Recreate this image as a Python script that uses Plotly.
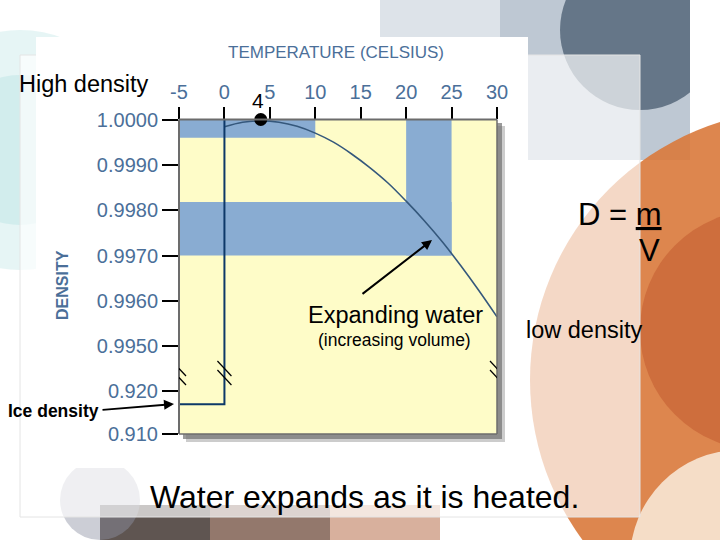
import plotly.graph_objects as go

# ---------------- data ----------------
temps = [0, 2, 4, 6, 8, 10, 12, 14, 16, 18, 20, 22, 24, 26, 28, 30]
density = [0.99984, 0.99994, 0.99997, 0.99994, 0.99985, 0.99970, 0.99950, 0.99924,
           0.99894, 0.99860, 0.99820, 0.99777, 0.99730, 0.99678, 0.99623, 0.99565]
max_temp = 4
max_density = 1.0000
ice_temp = 0
ice_density = 0.917
x_ticks = [-5, 0, 5, 10, 15, 20, 25, 30]
y_ticks_upper = [1.0000, 0.9990, 0.9980, 0.9970, 0.9960, 0.9950]
y_ticklabels_upper = ["1.0000", "0.9990", "0.9980", "0.9970", "0.9960", "0.9950"]
y_ticks_lower = [0.920, 0.910]
y_ticklabels_lower = ["0.920", "0.910"]
band_temp_lo = [-5, -5, 20]
band_temp_hi = [10, 25, 25]
band_dens_lo = [0.99960, 0.99700, 0.99700]
band_dens_hi = [1.0000, 0.99818, 1.0000]
x_range = [-5, 30]
upper_range = [0.99450, 1.00000]
lower_range = [0.910, 0.92526]

W, H = 720, 540
def px(x): return x / W
def py(y): return 1 - y / H

AX_BLUE = "#4b6f99"
TICKFONT = "Liberation Sans, Arial, sans-serif"
ARIAL = "Liberation Sans, Arial, sans-serif"

fig = go.Figure()

# curve (upper panel)
fig.add_trace(go.Scatter(x=temps, y=density, mode="lines", line=dict(color="#35587c", width=1.6, shape="spline"),
                         xaxis="x", yaxis="y", hoverinfo="skip", showlegend=False))
# vertical line at 0 C (upper)
fig.add_trace(go.Scatter(x=[ice_temp, ice_temp], y=[upper_range[0], max_density], mode="lines",
                         line=dict(color="#0d3868", width=2), xaxis="x", yaxis="y", showlegend=False))
# max point
fig.add_trace(go.Scatter(x=[max_temp], y=[max_density], mode="markers", marker=dict(color="black", size=13),
                         cliponaxis=False, xaxis="x", yaxis="y", showlegend=False))
# ice line (lower panel)
fig.add_trace(go.Scatter(x=[x_range[0], ice_temp, ice_temp], y=[ice_density, ice_density, lower_range[1]],
                         mode="lines", line=dict(color="#0d3868", width=2), xaxis="x2", yaxis="y2", showlegend=False))

def prect(x0, y0, x1, y1, color, opacity=1.0, line=None, layer="below"):
    return dict(type="rect", xref="paper", yref="paper", x0=px(x0), x1=px(x1), y0=py(y1), y1=py(y0),
                fillcolor=color, opacity=opacity, line=line or dict(width=0), layer=layer)

def pcirc(cx, cy, r, color, opacity=1.0):
    return dict(type="circle", xref="paper", yref="paper", x0=px(cx - r), x1=px(cx + r), y0=py(cy + r),
                y1=py(cy - r), fillcolor=color, opacity=opacity, line=dict(width=0), layer="below")

shapes = []
# ---- slide background ----
shapes.append(pcirc(20, 150, 120, "#d6efef", 0.6))
shapes.append(pcirc(20, 150, 75, "#c4e7e8", 0.6))
shapes.append(prect(380, 0, 690, 160, "#c6d0da", 0.6))
shapes.append(prect(500, 0, 690, 160, "#aab6c4", 0.6))
shapes.append(pcirc(640, 30, 80, "#56677a", 0.85))
shapes.append(prect(690, 0, 720, 160, "#ffffff"))
shapes.append(pcirc(800, 380, 270, "#d9793b", 0.9))
shapes.append(pcirc(760, 330, 120, "#c0552b", 0.5))
shapes.append(pcirc(740, 560, 110, "#fbf3e6", 0.8))
shapes.append(prect(100, 505, 210, 540, "#4e423e", 0.9))
shapes.append(prect(210, 505, 330, 540, "#87695c", 0.9))
shapes.append(prect(330, 505, 440, 540, "#d4a792", 0.9))
shapes.append(pcirc(100, 500, 40, "#8d93a3", 0.45))
# translucent slide panel
shapes.append(prect(20, 55, 640, 517, "rgba(255,255,255,0.68)", line=dict(color="#e4e4e4", width=1)))
# white chart panel
shapes.append(prect(36, 37, 528, 468, "#ffffff"))
# shadow + yellow plot area
shapes.append(prect(186, 126, 505, 442, "#9a9a9a", 0.5))
shapes.append(prect(183, 123, 502, 439, "#707070", 0.7))
shapes.append(prect(179, 119.5, 497, 434, "#fefcc8"))
# blue bands
for t0, t1, d0, d1 in zip(band_temp_lo, band_temp_hi, band_dens_lo, band_dens_hi):
    shapes.append(dict(type="rect", xref="x", yref="y", x0=t0, x1=t1, y0=d0, y1=d1,
                       fillcolor="#89acd2", line=dict(width=0), layer="below"))
# frame border
def pline(x0, y0, x1, y1, color, width):
    return dict(type="line", xref="paper", yref="paper", x0=px(x0), x1=px(x1), y0=py(y0), y1=py(y1),
                line=dict(color=color, width=width))
shapes.append(pline(179, 119.5, 179, 434, "#6c6c6c", 2))
shapes.append(pline(179, 119.5, 497, 119.5, "#6c6c6c", 2))
shapes.append(pline(497, 119.5, 497, 434, "#6c6c6c", 1.5))
shapes.append(pline(179, 434, 497, 434, "#6c6c6c", 1.5))
# axis break marks
for xb in [x_range[0], ice_temp, x_range[1]]:
    for dy in [0, 9]:
        shapes.append(dict(type="line", xref="x", yref="paper", xsizemode="pixel", xanchor=xb,
                           x0=-7, x1=7, y0=py(361 + dy), y1=py(376 + dy),
                           line=dict(color="black", width=1.2)))
fig.update_layout(shapes=shapes)

def ptext(text, x, y, size, color="black", xanchor="center", family=ARIAL, **kw):
    return dict(text=text, x=px(x), y=py(y), xref="paper", yref="paper", showarrow=False, xanchor=xanchor,
                yanchor="middle", font=dict(family=family, size=size, color=color), **kw)

ann = []
ann.append(ptext("TEMPERATURE (CELSIUS)", 336, 53, 17, AX_BLUE))
ann.append(ptext("<b>DENSITY</b>", 62, 285, 16, AX_BLUE, textangle=-90))
ann.append(ptext("High density", 17, 84, 23.5, xanchor="left"))
ann.append(ptext("4", 258, 101, 21))
ann.append(ptext("D = <u>m</u>", 664, 214, 31, xanchor="right"))
ann.append(ptext("V", 662, 250, 31, xanchor="right"))
ann.append(ptext("Expanding water", 395, 315, 23.5))
ann.append(ptext("(increasing volume)", 394, 340, 17.5))
ann.append(ptext("low density", 524, 330, 23.5, xanchor="left"))
ann.append(ptext("<b>Ice density</b>", 6, 411, 17.5, xanchor="left"))
ann.append(ptext("Water expands as it is heated.", 364, 497, 32))
# arrows (offsets in pixels from head to tail)
ann.append(dict(text="", x=px(432), y=py(240), xref="paper", yref="paper", ax=-71, ay=55,
                axref="pixel", ayref="pixel", showarrow=True, arrowhead=2, arrowsize=1, arrowwidth=2,
                arrowcolor="black"))
ann.append(dict(text="", x=px(174), y=py(404), xref="paper", yref="paper", ax=-73, ay=6,
                axref="pixel", ayref="pixel", showarrow=True, arrowhead=2, arrowsize=1, arrowwidth=2,
                arrowcolor="black"))
fig.update_layout(annotations=ann)

tickfont = dict(family=TICKFONT, size=20, color=AX_BLUE)
fig.update_layout(
    width=W, height=H, margin=dict(l=0, r=0, t=0, b=0, autoexpand=False),
    paper_bgcolor="#ffffff", plot_bgcolor="rgba(0,0,0,0)", showlegend=False,
    xaxis=dict(domain=[px(179), px(497)], range=x_range, side="top", anchor="y", automargin=False,
               tickvals=x_ticks, ticktext=[str(v) for v in x_ticks], ticks="outside", ticklen=12,
               tickwidth=2, tickcolor="black", showgrid=False, zeroline=False, showline=False,
               tickfont=tickfont),
    yaxis=dict(domain=[py(369), py(119.5)], range=upper_range, anchor="x", automargin=False,
               tickvals=y_ticks_upper, ticktext=y_ticklabels_upper, ticks="outside", ticklen=16,
               tickwidth=2, tickcolor="black", showgrid=False, zeroline=False, showline=False,
               tickfont=tickfont),
    xaxis2=dict(domain=[px(179), px(497)], range=x_range, anchor="y2", matches="x", visible=False,
                automargin=False),
    yaxis2=dict(domain=[py(434), py(369)], range=lower_range, anchor="x2", automargin=False,
                tickvals=y_ticks_lower, ticktext=y_ticklabels_lower, ticks="outside", ticklen=16,
                tickwidth=2, tickcolor="black", showgrid=False, zeroline=False, showline=False,
                tickfont=tickfont),
)

fig.write_html("out.html", config={"displayModeBar": False},
               post_script="document.body.style.margin='0';document.body.style.overflow='hidden';")
